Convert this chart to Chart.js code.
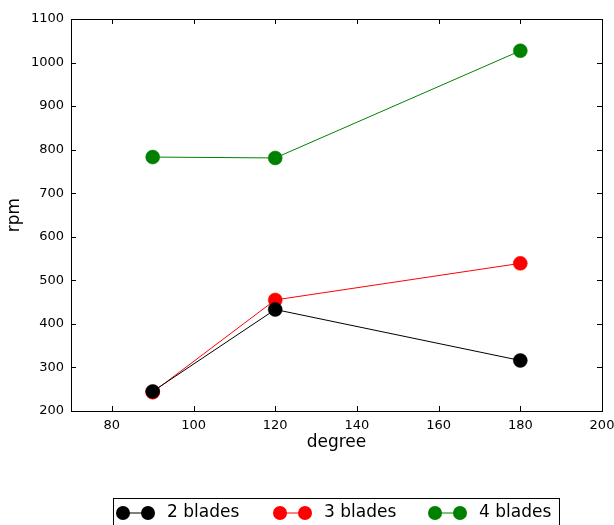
<!DOCTYPE html>
<html>
<head>
<meta charset="utf-8">
<script src="https://cdn.jsdelivr.net/npm/chart.js@4/dist/chart.umd.min.js"></script>
<style>
  html, body { margin: 0; padding: 0; background: #fff; }
  #wrap { width: 614px; height: 525px; position: relative; }
</style>
</head>
<body>
<div id="wrap"><canvas id="chart"></canvas></div>
<script>
// data
const degrees = [90, 120, 180];
const blades2 = [245, 433, 316];
const blades3 = [243, 455, 539];
const blades4 = [783, 781, 1027];
const seriesLabels = ["2 blades", "3 blades", "4 blades"];
const seriesColors = ["#000000", "#ff0000", "#008000"];
const xTicks = [80, 100, 120, 140, 160, 180, 200];
const yTicks = [200, 300, 400, 500, 600, 700, 800, 900, 1000, 1100];

const FONT = "'DejaVu Sans', sans-serif";

function toPoints(ys) {
  return degrees.map((d, i) => ({ x: d, y: ys[i] }));
}

const datasets = [blades2, blades3, blades4].map((ys, i) => ({
  label: seriesLabels[i],
  data: toPoints(ys),
  showLine: true,
  borderColor: seriesColors[i],
  backgroundColor: seriesColors[i],
  borderWidth: 1,
  pointRadius: 7,
  pointBorderWidth: 0.5,
  pointBorderColor: seriesColors[i],
  pointBackgroundColor: seriesColors[i],
}));

// frame + inward tick marks on all four sides (matplotlib classic look)
const framePlugin = {
  id: "frame",
  beforeDatasetsDraw(chart) {
    const { ctx, chartArea: a, scales } = chart;
    const len = 5;
    ctx.save();
    ctx.strokeStyle = "#000";
    ctx.lineWidth = 1;
    ctx.beginPath();
    xTicks.forEach((v) => {
      const px = Math.round(scales.x.getPixelForValue(v)) + 0.5;
      ctx.moveTo(px, a.bottom);
      ctx.lineTo(px, a.bottom - len);
      ctx.moveTo(px, a.top);
      ctx.lineTo(px, a.top + len);
    });
    yTicks.forEach((v) => {
      const py = Math.round(scales.y.getPixelForValue(v)) + 0.5;
      ctx.moveTo(a.left, py);
      ctx.lineTo(a.left + len, py);
      ctx.moveTo(a.right, py);
      ctx.lineTo(a.right - len, py);
    });
    ctx.stroke();
    ctx.strokeRect(Math.round(a.left) + 0.5, Math.round(a.top) + 0.5,
      Math.round(a.right - a.left), Math.round(a.bottom - a.top));
    ctx.restore();
  },
};

// boxed legend below the plot, clipped by the bottom edge like the original
const legendPlugin = {
  id: "boxLegend",
  afterDraw(chart) {
    const { ctx } = chart;
    const boxX = 113.5, boxY = 498.5, boxW = 446, boxH = 34;
    const itemX = [123, 280, 435];
    const midY = 513;
    ctx.save();
    ctx.fillStyle = "#fff";
    ctx.fillRect(boxX, boxY, boxW, boxH);
    ctx.strokeStyle = "#000";
    ctx.lineWidth = 1;
    ctx.strokeRect(boxX, boxY, boxW, boxH);
    chart.data.datasets.forEach((ds, i) => {
      const x0 = itemX[i];
      const x1 = x0 + 25;
      ctx.strokeStyle = ds.borderColor;
      ctx.beginPath();
      ctx.moveTo(x0, midY);
      ctx.lineTo(x1, midY);
      ctx.stroke();
      ctx.fillStyle = ds.pointBackgroundColor;
      [x0, x1].forEach((cx) => {
        ctx.beginPath();
        ctx.arc(cx, midY, 7, 0, Math.PI * 2);
        ctx.fill();
      });
      ctx.fillStyle = "#000";
      ctx.font = "17px " + FONT;
      ctx.textBaseline = "middle";
      ctx.textAlign = "left";
      ctx.fillText(ds.label, x1 + 19, midY);
    });
    ctx.restore();
  },
};

new Chart(document.getElementById("chart").getContext("2d"), {
  type: "scatter",
  data: { datasets },
  options: {
    responsive: true,
    maintainAspectRatio: false,
    animation: false,
    layout: { padding: { left: 0, right: 12, top: 19, bottom: 68 } },
    plugins: {
      legend: { display: false },
      tooltip: { enabled: false },
    },
    scales: {
      x: {
        type: "linear",
        min: 70,
        max: 200,
        afterBuildTicks(scale) {
          scale.ticks = xTicks.map((v) => ({ value: v }));
        },
        afterFit(scale) {
          scale.height = 46;
          scale.paddingLeft = 0;
          scale.paddingRight = 0;
        },
        grid: { display: false, drawTicks: false },
        border: { display: false },
        ticks: {
          color: "#000",
          padding: 7,
          font: { family: FONT, size: 13 },
          callback: (v) => String(v),
        },
        title: {
          display: true,
          text: "degree",
          color: "#000",
          font: { family: FONT, size: 17 },
          padding: { top: 4, bottom: 4 },
        },
      },
      y: {
        type: "linear",
        min: 200,
        max: 1100,
        afterBuildTicks(scale) {
          scale.ticks = yTicks.map((v) => ({ value: v }));
        },
        afterFit(scale) {
          scale.width = 71;
          scale.paddingTop = 0;
          scale.paddingBottom = 0;
        },
        grid: { display: false, drawTicks: false },
        border: { display: false },
        ticks: {
          color: "#000",
          padding: 7,
          font: { family: FONT, size: 13 },
          callback: (v) => String(v),
        },
        title: {
          display: true,
          text: "rpm",
          color: "#000",
          font: { family: FONT, size: 17 },
          padding: { top: 4, bottom: 4 },
        },
      },
    },
  },
  plugins: [framePlugin, legendPlugin],
});
</script>
</body>
</html>
